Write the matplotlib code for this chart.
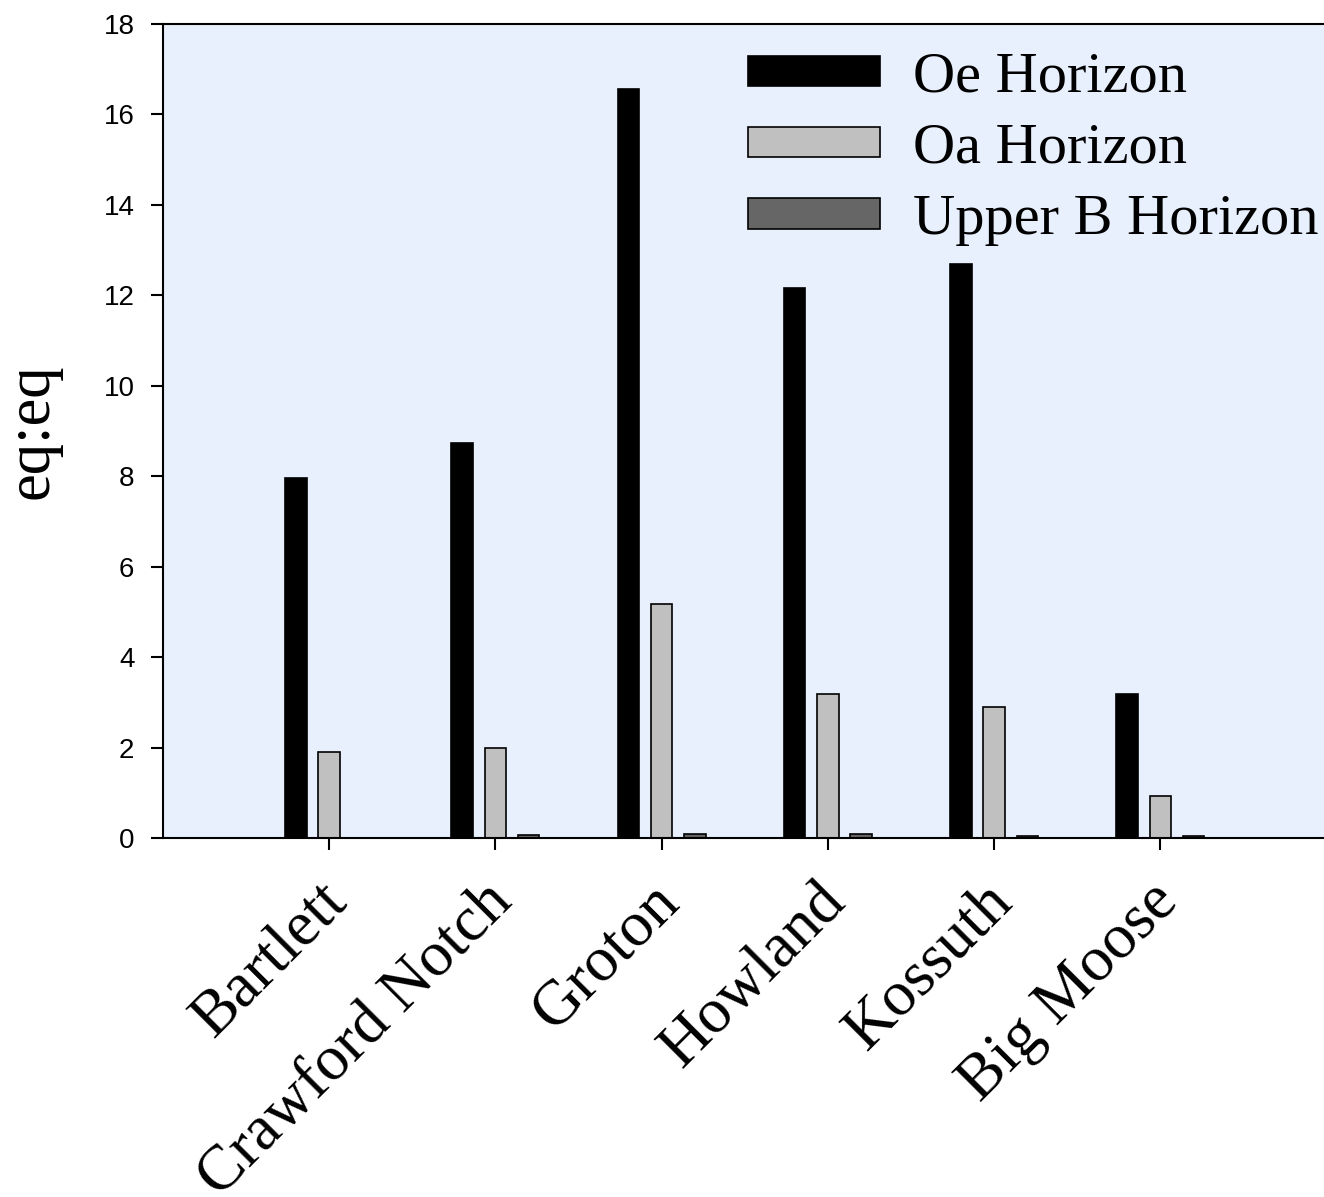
import matplotlib
matplotlib.use("Agg")
import matplotlib.pyplot as plt
import matplotlib.transforms as mtransforms
import numpy as np

sites = ["Bartlett", "Crawford Notch", "Groton", "Howland", "Kossuth", "Big Moose"]
oe_horizon = [7.97, 8.74, 16.57, 12.17, 12.70, 3.19]
oa_horizon = [1.90, 1.99, 5.18, 3.19, 2.90, 0.93]
upper_b_horizon = [0.0, 0.06, 0.08, 0.095, 0.04, 0.05]

serif = ["Liberation Serif", "DejaVu Serif"]
sans = ["Liberation Sans", "DejaVu Sans"]

fig = plt.figure(figsize=(13.24, 11.97), dpi=100)
ax = fig.add_axes([0.123, 0.2999, 0.879, 0.6801])
ax.set_facecolor("#e9f0fd")

x = np.arange(len(sites))
offset = 0.2
width = 0.13
ax.bar(x - offset, oe_horizon, width, color="black", edgecolor="black", linewidth=1.2, label="Oe Horizon")
ax.bar(x, oa_horizon, width, color="#c0c0c0", edgecolor="black", linewidth=1.2, label="Oa Horizon")
ax.bar(x + offset, upper_b_horizon, width, color="#666666", edgecolor="black", linewidth=1.2, label="Upper B Horizon")

ax.set_xlim(-1, 6)
ax.set_ylim(0, 18)
ax.set_yticks(np.arange(0, 19, 2))
ax.set_xticks(x)
ax.set_xticklabels([])
# rotated site names, placed by hand so they sit a bit down-left of the ticks
shift = mtransforms.ScaledTranslation(-0.12, -0.345, fig.dpi_scale_trans)
for xi, name in zip(x, sites):
    ax.text(xi, 0, name, transform=ax.get_xaxis_transform() + shift,
            rotation=45, ha="right", va="top", rotation_mode="anchor",
            family=serif, fontsize=46, clip_on=False)
for lbl in ax.get_yticklabels():
    lbl.set_family(sans)
    lbl.set_fontsize(20)
ax.tick_params(axis="both", direction="out", length=8.5, width=1.5)
ax.tick_params(axis="y", pad=12)
for side in ["left", "top", "bottom", "right"]:
    ax.spines[side].set_linewidth(1.5)
ax.spines["right"].set_visible(False)

ax.set_ylabel("eq:eq", family=serif, fontsize=45)
ax.yaxis.set_label_coords(-0.0868, 0.5)

leg = ax.legend(loc="upper left", bbox_to_anchor=(0.5027, 0.966), frameon=False,
                prop={"family": serif, "size": 42}, handlelength=2.26,
                handleheight=0.43, labelspacing=0.33, handletextpad=0.57,
                borderaxespad=0, borderpad=0)

fig.savefig("out.png", dpi=100)
